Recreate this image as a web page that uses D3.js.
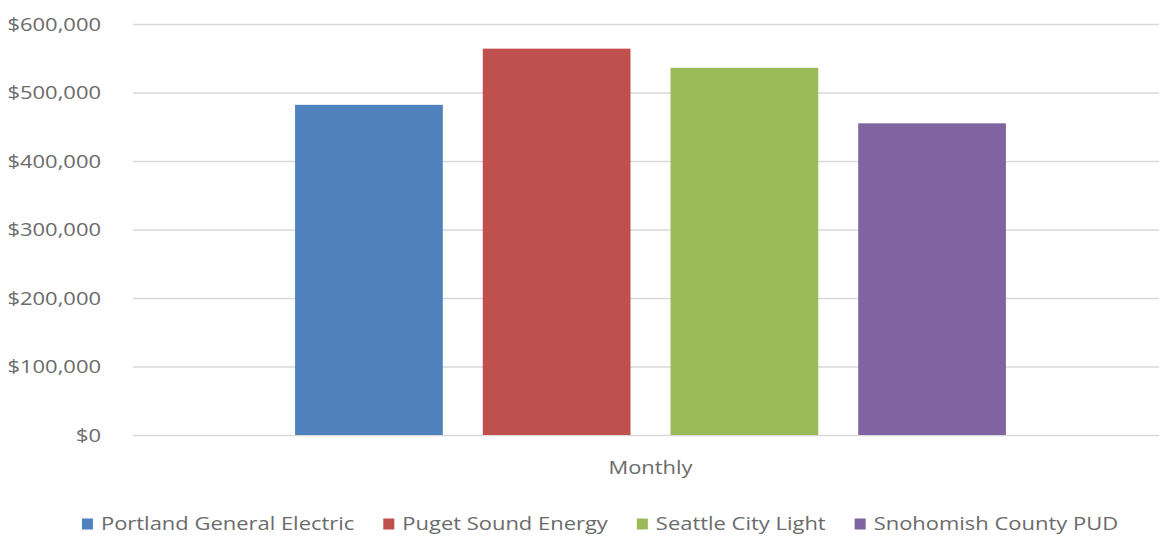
<!DOCTYPE html>
<html><head><meta charset="utf-8">
<script src="https://cdn.jsdelivr.net/npm/d3@7"></script>
<style>body{margin:0;background:#fff}svg{display:block}text{font-family:"Open Sans",Lato,sans-serif;fill:#6b6b6b}</style>
</head><body>
<svg id="c" width="1159" height="538"></svg>
<script>
const categories = ["Monthly"];
const seriesNames = ["Portland General Electric","Puget Sound Energy","Seattle City Light","Snohomish County PUD"];
const seriesValues = [482000, 564000, 536000, 455000];
const seriesColors = ["#4f81bd","#c0504d","#9bbb59","#8064a2"];
const yTicks = [0,100000,200000,300000,400000,500000,600000];

const svg = d3.select("#c");
const mLeft = 133, mRight = 1168, mTop = 24, mBottom = 435;
const FS = "18px", SX = 1.22;

const y = d3.scaleLinear().domain([0,600000]).range([mBottom, mTop]);
const x0 = d3.scaleBand().domain(categories).range([mLeft, mRight]).paddingInner(0).paddingOuter(0.228);
const x1 = d3.scaleBand().domain(seriesNames).range([0, x0.bandwidth()]).paddingInner(0.213).paddingOuter(0);

// gridlines
const yAxis = d3.axisLeft(y).tickValues(yTicks).tickSize(-(mRight-mLeft)).tickFormat(d => "$" + d3.format(",")(d));
const gy = svg.append("g").attr("transform", `translate(${mLeft},0)`).call(yAxis);
gy.select(".domain").remove();
gy.selectAll(".tick line").attr("stroke","#d9d9d9").attr("stroke-width",1.3);
gy.selectAll(".tick text").attr("x",0).attr("dy","0.34em").attr("transform",`translate(-32,0) scale(${SX},1)`)
  .style("font-size",FS).attr("fill","#6b6b6b");

// bars
const g = svg.append("g").attr("transform", `translate(${x0(categories[0])},0)`);
g.selectAll("rect").data(seriesNames).join("rect")
  .attr("x", d => x1(d)).attr("width", x1.bandwidth())
  .attr("y", (d,i) => y(seriesValues[i])).attr("height", (d,i) => y(0) - y(seriesValues[i]))
  .attr("fill", (d,i) => seriesColors[i]);

// x axis label
const xAxis = d3.axisBottom(x0).tickSize(0);
const gx = svg.append("g").attr("transform", `translate(0,${mBottom})`).call(xAxis);
gx.select(".domain").remove();
gx.selectAll(".tick text").attr("y",0).attr("dy","0.34em").attr("transform",`translate(0,33) scale(${SX},1)`)
  .style("font-size",FS).attr("fill","#6b6b6b");

// legend
const lg = svg.append("g");
const items = lg.selectAll("g").data(seriesNames).join("g");
items.append("rect").attr("width",11).attr("height",11).attr("y",-5.5).attr("fill",(d,i)=>seriesColors[i]);
items.append("text").attr("dy","0.34em").attr("transform",`translate(19,0) scale(${SX},1)`).style("font-size",FS).text(d=>d);
let xs = 0; const pos = [];
items.each(function(){ pos.push(xs); xs += 19 + this.querySelector("text").getComputedTextLength()*SX + 29; });
const total = xs - 29;
const startX = 600 - total/2;
items.attr("transform",(d,i)=>`translate(${startX+pos[i]},524)`);
</script>
</body></html>
